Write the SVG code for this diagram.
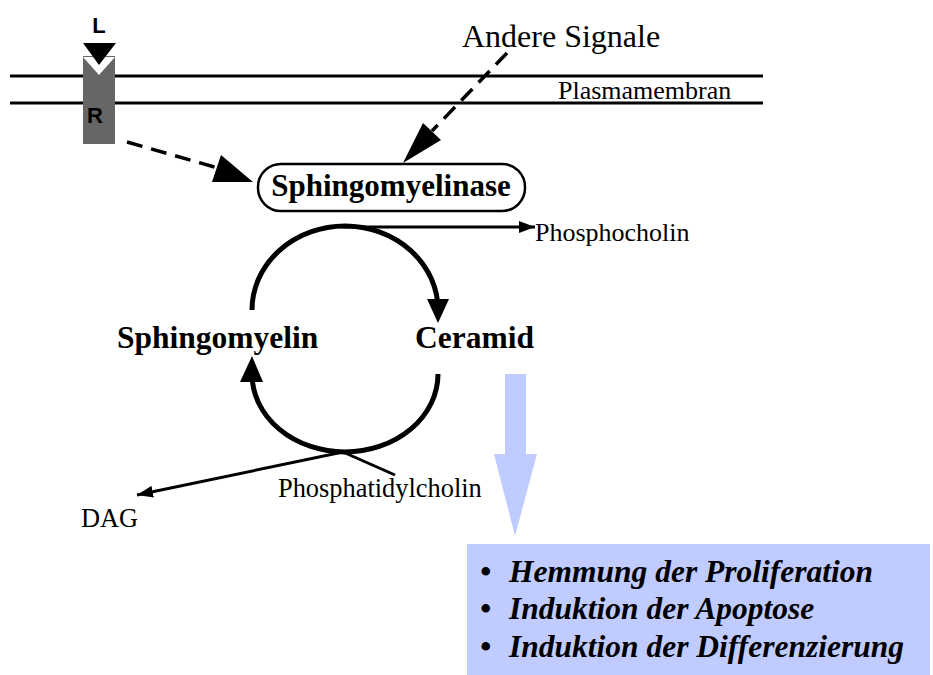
<svg xmlns="http://www.w3.org/2000/svg" width="933" height="675" viewBox="0 0 933 675">
<style>
.serif{font-family:"Liberation Serif","Times New Roman",serif;fill:#000}
.bold{font-weight:bold}
.sans{font-family:"Liberation Sans",Arial,sans-serif;font-weight:bold;fill:#000}
.line{fill:none;stroke:#000;stroke-width:3}
.dash{fill:none;stroke:#000;stroke-width:3.5;stroke-dasharray:16 9}
.arc{fill:none;stroke:#000;stroke-width:5}
.item{font-family:"Liberation Serif","Times New Roman",serif;font-weight:bold;font-style:italic;font-size:31.5px;fill:#000}
</style>
<defs>
<marker id="ah" markerWidth="8" markerHeight="6" refX="8" refY="3" orient="auto" markerUnits="userSpaceOnUse" viewBox="0 0 8 6">
<path d="M0,0 L8,3 L0,6 Z" fill="#000"/>
</marker>
<marker id="ah2" markerWidth="16" markerHeight="12" refX="16" refY="6" orient="auto" markerUnits="userSpaceOnUse" viewBox="0 0 16 12">
<path d="M0,0 L16,6 L0,12 Z" fill="#000"/>
</marker>
</defs>

<g id="membrane">
<line class="line" x1="10" y1="76" x2="763" y2="76"/>
<line class="line" x1="10" y1="103" x2="763" y2="103"/>
<text class="serif" x="558" y="99" font-size="26">Plasmamembran</text>
</g>

<g id="receptor">
<rect x="83" y="56" width="32" height="88" fill="#666"/>
<polygon points="83,57 115,57 99,75" fill="#fff"/>
<polygon points="83,43 116,43 99,65" fill="#000"/>
<text class="sans" x="99" y="33" font-size="22" text-anchor="middle">L</text>
<text class="sans" x="95" y="123" font-size="22" text-anchor="middle">R</text>
</g>

<g id="andere">
<text class="serif" x="462" y="47" font-size="32">Andere Signale</text>
</g>

<g id="sphingomyelinase">
<rect x="258" y="164" width="267" height="47" rx="23" ry="23" fill="#fff" stroke="#000" stroke-width="2.5"/>
<text class="serif bold" x="391" y="196" font-size="31" text-anchor="middle">Sphingomyelinase</text>
</g>

<g id="phosphocholin">
<text class="serif" x="535" y="241" font-size="26">Phosphocholin</text>
</g>

<g id="sphingomyelin">
<text class="serif bold" x="117" y="348" font-size="31.5">Sphingomyelin</text>
</g>

<g id="ceramid">
<text class="serif bold" x="415" y="348" font-size="31.5">Ceramid</text>
</g>

<g id="phosphatidylcholin">
<text class="serif" x="278" y="497" font-size="26.4">Phosphatidylcholin</text>
</g>

<g id="dag">
<text class="serif" x="81" y="527" font-size="26.4">DAG</text>
</g>

<g id="effects">
<rect x="467" y="544" width="463" height="131" fill="#c0ccff"/>
<text class="item" x="480" y="582">•</text>
<text class="item" x="509" y="582">Hemmung der Proliferation</text>
<text class="item" x="480" y="619">•</text>
<text class="item" x="509" y="619">Induktion der Apoptose</text>
<text class="item" x="480" y="657">•</text>
<text class="item" x="509" y="657">Induktion der Differenzierung</text>
</g>

<g id="connectors">
<!-- receptor to sphingomyelinase -->
<line class="dash" x1="127" y1="142" x2="218" y2="168"/>
<polygon points="253,182 221,155 212,182" fill="#000"/>
<!-- andere signale to sphingomyelinase -->
<line class="dash" x1="507" y1="53" x2="432" y2="131"/>
<polygon points="403,163 423,123 441,140" fill="#000"/>
<!-- cycle top -->
<path class="arc" d="M252,310 A93,84 0 0 1 438,310 L438,302"/>
<polygon points="427,299 449,299 438,323" fill="#000"/>
<!-- cycle bottom -->
<path class="arc" d="M438,374 A93,78 0 0 1 252,374 L252,378"/>
<polygon points="240,382 263,382 252,356" fill="#000"/>
<!-- phosphocholin -->
<line class="line" x1="343" y1="227" x2="535" y2="227" marker-end="url(#ah2)"/>
<!-- phosphatidylcholin to DAG -->
<line class="line" x1="395" y1="475" x2="343" y2="452"/>
<line class="line" x1="343" y1="452" x2="137" y2="495" marker-end="url(#ah2)"/>
<!-- big blue arrow -->
<polygon points="505,374 526,374 526,454 537,454 515,536 494,454 505,454" fill="#c0ccff"/>
</g>
</svg>
